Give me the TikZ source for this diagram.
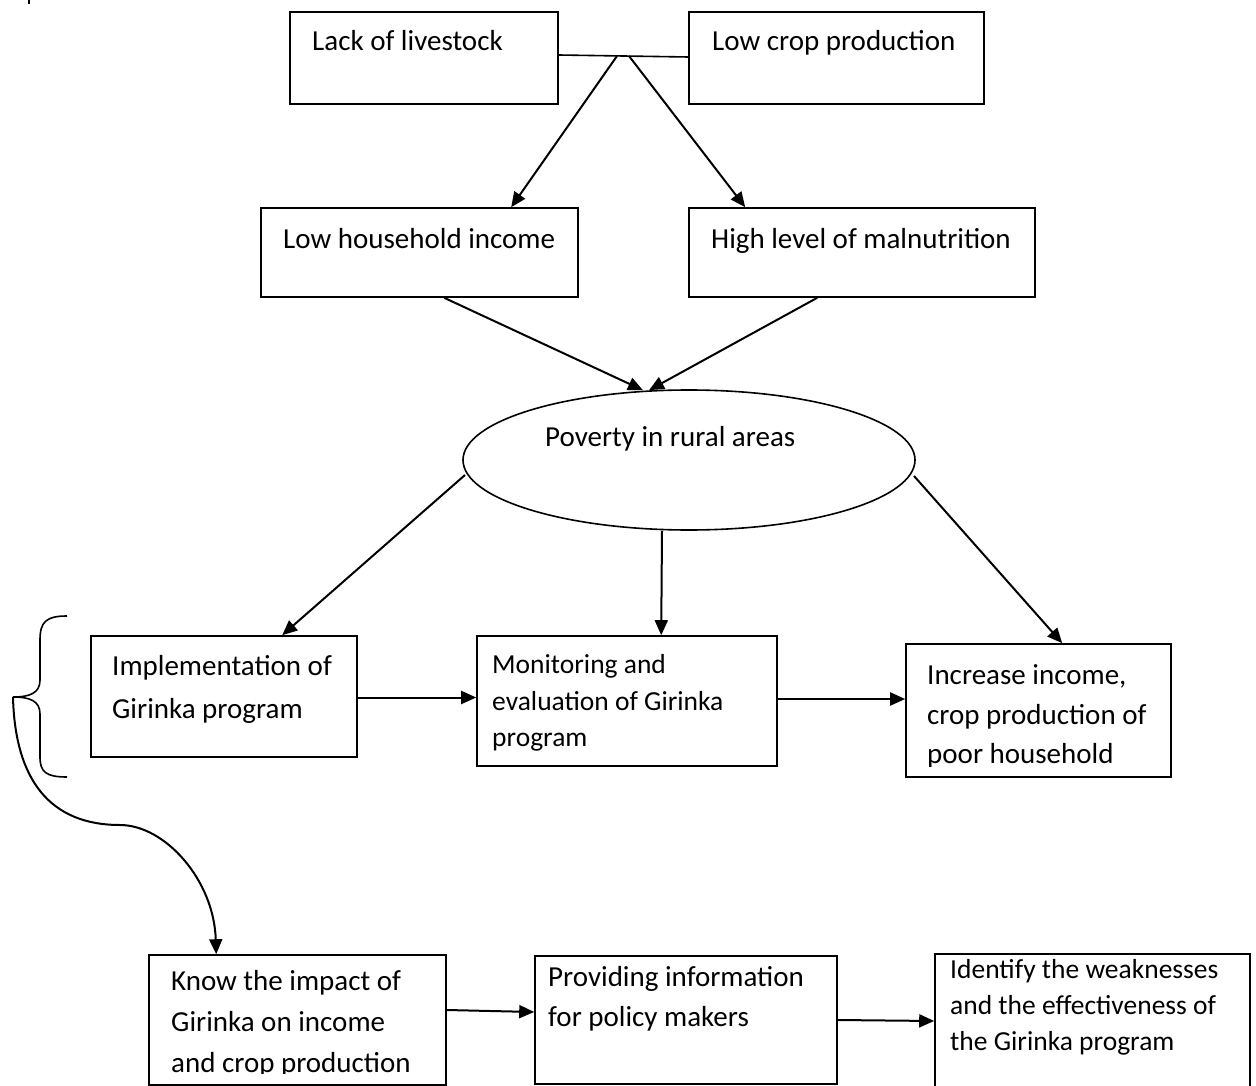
\documentclass[tikz,border=0pt]{standalone}
\usepackage{fontspec}
\setmainfont{Carlito}
\usetikzlibrary{arrows.meta,calc,shapes.geometric}
\begin{document}
\begin{tikzpicture}[x=1pt,y=-1pt,
  box/.style={draw, line width=1.6pt, inner sep=0pt},
  arr/.style={line width=2pt, -{Triangle[length=15pt,width=13pt]}},
  big/.style={font=\fontsize{29}{40}\selectfont, inner sep=0pt, anchor=base west},
  small/.style={font=\fontsize{27.5}{36}\selectfont, inner sep=0pt, anchor=base west}]
\path[use as bounding box] (0,0) rectangle (1256,1086);
\fill (27.5,0) rectangle (29.5,4);

% boxes
\node[box, minimum width=268, minimum height=92] (lack) at (424,58) {};
\node[box, minimum width=295, minimum height=92] (crop) at (836.5,58) {};
\node[box, minimum width=317, minimum height=89] (inc) at (419.5,252.5) {};
\node[box, minimum width=346, minimum height=89] (mal) at (862,252.5) {};
\node[draw, line width=1.6pt, ellipse, inner sep=0pt, minimum width=452, minimum height=140] (pov) at (689,460) {};
\node[box, minimum width=266, minimum height=121] (impl) at (224,696.5) {};
\node[box, minimum width=300, minimum height=130] (mon) at (627,701) {};
\node[box, minimum width=265, minimum height=133] (incr) at (1038.5,710.5) {};
\node[box, minimum width=297, minimum height=130] (know) at (297.5,1020) {};
\node[box, minimum width=302, minimum height=128] (prov) at (686,1020) {};
\node[box, minimum width=315, minimum height=138] (iden) at (1092.5,1023) {};

% texts
\node[big] (t1) at (312,51) {Lack of livestock};
\node[big] (t2) at (712,51) {Low crop production};
\node[big] (t3) at (283,248) {Low household income};
\node[big] (t4) at (711,248) {High level of malnutrition};
\node[big] (t5) at (545,446) {Poverty in rural areas};
\node[big] (t6a) at (112,675) {Implementation of};
\node[big] (t6b) at (112,718) {Girinka program};
\node[small] (t7a) at (492,673) {Monitoring and};
\node[small] (t7b) at (492,710) {evaluation of Girinka};
\node[small] (t7c) at (492,746) {program};
\node[big] (t8a) at (927,684) {Increase income,};
\node[big] (t8b) at (927,724) {crop production of};
\begin{scope}
\clip (incr.north west) rectangle ([yshift=11pt]incr.south east);
\node[big] (t8c) at (927,763) {poor household};
\end{scope}
\node[big] (t9a) at (171,990) {Know the impact of};
\node[big] (t9b) at (171,1031) {Girinka on income};
\begin{scope}
\clip (know.north west) rectangle ([yshift=12pt]know.south east);
\node[big] (t9c) at (171,1072) {and crop production};
\end{scope}
\node[big] (t10a) at (548,986) {Providing information};
\node[big] (t10b) at (548,1026) {for policy makers};
\node[small] (t11a) at (950,978) {Identify the weaknesses};
\node[small] (t11b) at (950,1014) {and the effectiveness of};
\node[small] (t11c) at (950,1050) {the Girinka program};

% connectors
\coordinate (j1) at (617,56);
\coordinate (j2) at (629,56);
\draw[line width=1.6pt] ([yshift=3pt]lack.east) -- ([yshift=1pt]crop.west);
\draw[arr] (j1) -- ($(inc.north west)+(251,0)$);
\draw[arr] (j2) -- ($(mal.north west)+(57,0)$);
\draw[arr] ($(inc.south west)+(184,0)$) -- ($(pov.north)+(-46,1)$);
\draw[arr] ($(mal.south west)+(129,0)$) -- ($(pov.north)+(-40,1)$);
\draw[arr] ($(pov.center)+(-224,15)$) -- ($(impl.north west)+(192,0)$);
\draw[arr] ($(pov.south)+(-27,0)$) -- ($(mon.north west)+(185,0)$);
\draw[arr] ($(pov.center)+(225,16)$) -- ($(incr.north west)+(157,0)$);
\draw[arr] ([yshift=-1pt]impl.east) -- ([yshift=-1pt]impl.east -| mon.west);
\draw[arr] ([yshift=2pt]mon.east) -- ([yshift=2pt]mon.east -| incr.west);
\draw[arr] ([yshift=10pt]know.east) -- ([yshift=8pt]prov.west);
\draw[arr] (prov.east) -- ([yshift=2pt]iden.west);

% brace and curved arrow
\coordinate (bt) at (13,697);
\draw[line width=1.6pt] (67,616) .. controls (46,616) and (40,622) .. (40,640) -- (40,680)
  .. controls (40,693) and (30,697) .. (bt)
  .. controls (30,697) and (40,701) .. (40,714) -- (40,757)
  .. controls (40,772) and (46,777) .. (67,777);
\draw[arr] (bt) .. controls (15,780) and (50,825) .. (120,825)
  .. controls (165,825) and (214,880) .. ($(know.north west)+(68,0)$);
\end{tikzpicture}
\end{document}
